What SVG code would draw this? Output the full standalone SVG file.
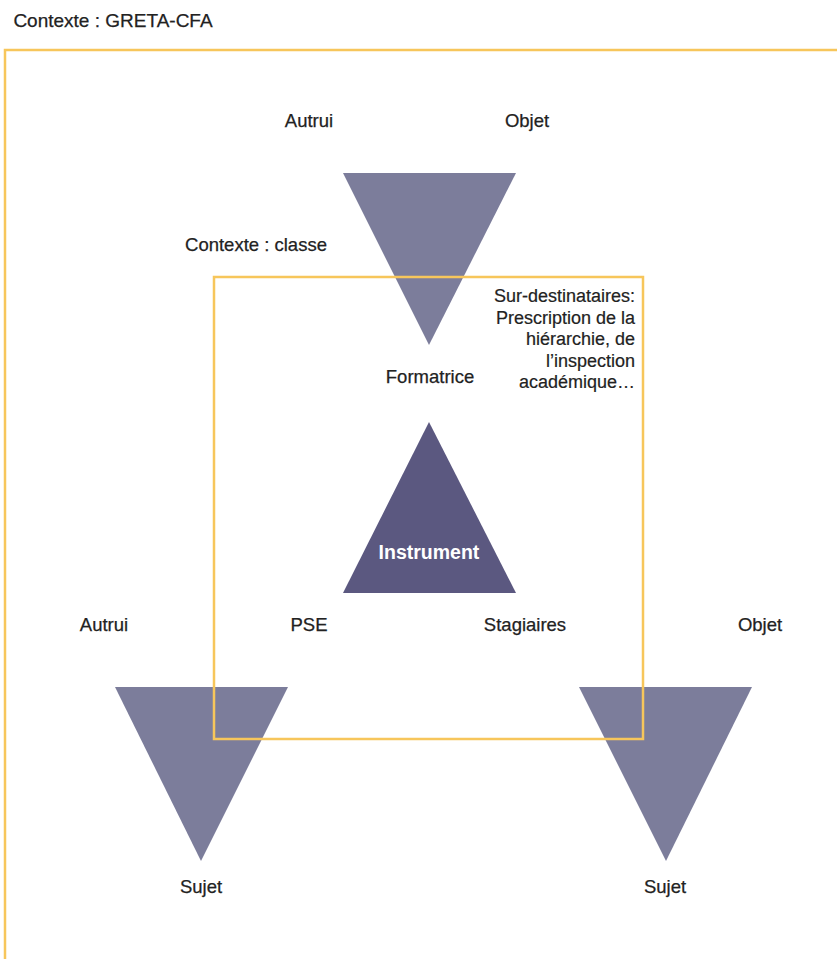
<svg xmlns="http://www.w3.org/2000/svg" width="837" height="959" viewBox="0 0 837 959">
<style>
.tri{fill:#7c7d9b}
.inst{fill:#5b5880}
.frame{fill:none;stroke:#f7c65b;stroke-width:2.5}
.lbl{font-family:"Liberation Sans",Arial,sans-serif;font-size:18.5px;fill:#222;stroke:#222;stroke-width:0.25;text-anchor:middle}
.note{font-family:"Liberation Sans",Arial,sans-serif;font-size:18px;fill:#222;stroke:#222;stroke-width:0.2;text-anchor:end}
.w{font-family:"Liberation Sans",Arial,sans-serif;font-size:19.5px;font-weight:bold;fill:#fff;text-anchor:middle}
</style>
<rect width="837" height="959" fill="#fff"/>
<g id="node-top">
<polygon class="tri" points="343,173 516,173 429,345"/>
<text class="lbl" x="309" y="127">Autrui</text>
<text class="lbl" x="527" y="127">Objet</text>
<text class="lbl" x="430" y="383">Formatrice</text>
</g>
<g id="node-instrument">
<polygon class="inst" points="429,422 516,593 343,593"/>
<text class="w" x="429" y="559">Instrument</text>
</g>
<g id="node-left">
<polygon class="tri" points="115,687 288,687 201,861"/>
<text class="lbl" x="104" y="631">Autrui</text>
<text class="lbl" x="201" y="893">Sujet</text>
</g>
<g id="node-right">
<polygon class="tri" points="579,687 752,687 666,861"/>
<text class="lbl" x="760" y="631">Objet</text>
<text class="lbl" x="665" y="893">Sujet</text>
</g>
<g id="contexts">
<rect class="frame" x="5" y="50" width="900" height="960"/>
<rect class="frame" x="214" y="277" width="429" height="462"/>
<text class="lbl" x="113" y="27" style="font-size:19px">Contexte : GRETA-CFA</text>
<text class="lbl" x="256" y="251">Contexte : classe</text>
<text class="lbl" x="309" y="631">PSE</text>
<text class="lbl" x="525" y="631">Stagiaires</text>
</g>
<g id="note">
<text class="note" x="635" y="302">Sur-destinataires:</text>
<text class="note" x="635" y="323.5">Prescription de la</text>
<text class="note" x="635" y="345">hiérarchie, de</text>
<text class="note" x="635" y="366.5">l’inspection</text>
<text class="note" x="635" y="388">académique…</text>
</g>
<g id="connectors"></g>
</svg>
